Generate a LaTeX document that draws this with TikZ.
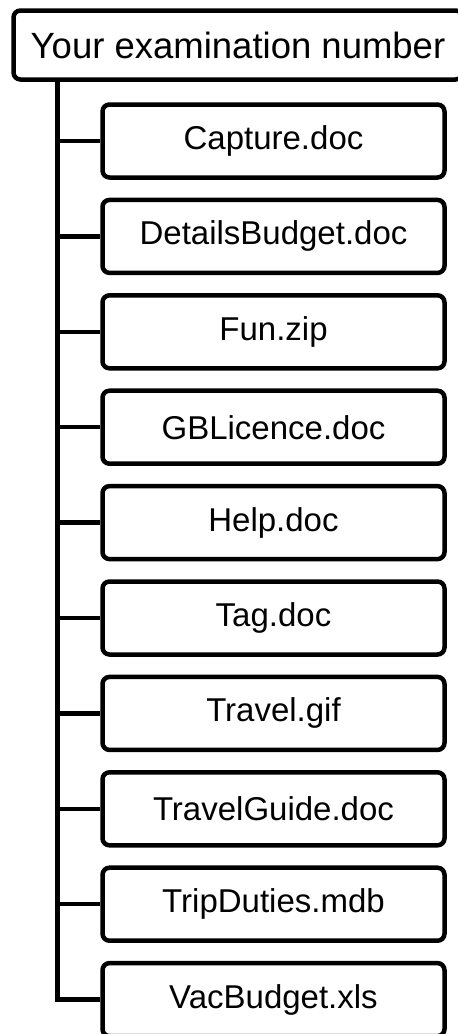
\documentclass[tikz,border=0pt]{standalone}
\usepackage{fontspec}
\setmainfont{Liberation Sans}
\begin{document}
\begin{tikzpicture}[x=1pt,y=-1pt,
  treeline/.style={line width=4.5pt},
  rootbox/.style={draw, line width=4.5pt, rounded corners=7pt, inner sep=0pt,
    minimum width=449pt, minimum height=69pt,
    font=\fontsize{36.5}{40}\selectfont},
  filebox/.style={draw, line width=4.5pt, rounded corners=7pt, inner sep=0pt,
    minimum width=342pt, minimum height=73pt,
    font=\fontsize{33}{38}\selectfont}]
  \useasboundingbox (0,0) rectangle (458,1034);
  \node[rootbox] (root) at (238,45) {Your examination number};
  \coordinate (trunk) at (57.5,82);
  \foreach \name [count=\i from 0] in {Capture.doc, DetailsBudget.doc, Fun.zip,
      GBLicence.doc, Help.doc, Tag.doc, Travel.gif, TravelGuide.doc,
      TripDuties.mdb, VacBudget.xls} {
    \node[filebox] (f\i) at (273.5,{141+95.4*\i}) {\name};
    \draw[treeline] (trunk) |- (f\i.west);
  }
\end{tikzpicture}
\end{document}
